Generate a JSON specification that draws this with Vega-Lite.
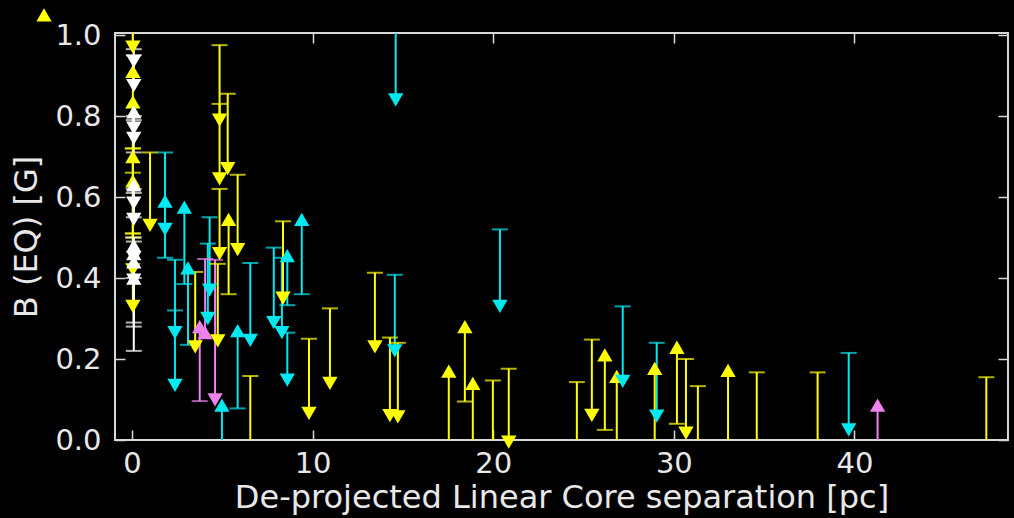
{
  "$schema": "https://vega.github.io/schema/vega-lite/v6.json",
  "width": 893,
  "height": 407,
  "autosize": {"type": "none"},
  "padding": {"left": 115, "top": 33, "right": 6, "bottom": 78},
  "background": "black",
  "config": {
    "view": {"stroke": "#d8d8d8", "strokeWidth": 2},
    "axis": {
      "domain": false,
      "grid": false,
      "tickSize": -10,
      "tickColor": "#d8d8d8",
      "tickWidth": 1.5,
      "labelFont": "DejaVu Sans",
      "labelFontSize": 29,
      "labelColor": "#e8e8e8",
      "titleFont": "DejaVu Sans",
      "titleFontSize": 32,
      "titleFontWeight": "normal",
      "titleColor": "#e8e8e8"
    }
  },
  "data": {
    "values": [
      {"x": 0.05, "y": 0.91, "cap": 0.72, "s": "up", "g": "Y"},
      {"x": 0.05, "y": 0.835, "cap": 0.66, "s": "up", "g": "Y"},
      {"x": 0.05, "y": 0.70, "cap": 0.51, "s": "up", "g": "Y"},
      {"x": 0.05, "y": 0.64, "cap": 0.50, "s": "up", "g": "Y"},
      {"x": 0.05, "y": 0.42, "cap": 0.72, "s": "down", "g": "Y"},
      {"x": 0.05, "y": 0.33, "cap": 0.51, "s": "down", "g": "Y"},
      {"x": 0.05, "y": 0.97, "cap": 1.03, "s": "down", "g": "Y"},
      {"x": 0.1, "y": 0.935, "cap": 0.965, "s": "down", "g": "W"},
      {"x": 0.1, "y": 0.875, "cap": 0.95, "s": "down", "g": "W"},
      {"x": 0.1, "y": 0.81, "cap": 0.71, "s": "up", "g": "W"},
      {"x": 0.1, "y": 0.77, "cap": 0.80, "s": "down", "g": "W"},
      {"x": 0.1, "y": 0.745, "cap": 0.79, "s": "down", "g": "W"},
      {"x": 0.1, "y": 0.63, "cap": 0.55, "s": "up", "g": "W"},
      {"x": 0.1, "y": 0.585, "cap": 0.62, "s": "down", "g": "W"},
      {"x": 0.1, "y": 0.545, "cap": 0.61, "s": "down", "g": "W"},
      {"x": 0.1, "y": 0.48, "cap": 0.40, "s": "up", "g": "W"},
      {"x": 0.1, "y": 0.45, "cap": 0.50, "s": "down", "g": "W"},
      {"x": 0.1, "y": 0.395, "cap": 0.49, "s": "down", "g": "W"},
      {"x": 0.1, "y": 0.46, "cap": 0.29, "s": "up", "g": "W"},
      {"x": 0.1, "y": 0.44, "cap": 0.28, "s": "up", "g": "W"},
      {"x": 0.1, "y": 0.40, "cap": 0.22, "s": "up", "g": "W"},
      {"x": 1.0, "y": 0.53, "cap": 0.71, "s": "down", "g": "Y"},
      {"x": 1.83, "y": 0.52, "cap": 0.71, "s": "down", "g": "C"},
      {"x": 1.83, "y": 0.59, "cap": 0.45, "s": "up", "g": "C"},
      {"x": 2.38, "y": 0.265, "cap": 0.445, "s": "down", "g": "C"},
      {"x": 2.38, "y": 0.135, "cap": 0.32, "s": "down", "g": "C"},
      {"x": 2.9, "y": 0.575, "cap": 0.385, "s": "up", "g": "C"},
      {"x": 3.1, "y": 0.425, "cap": 0.235, "s": "up", "g": "C"},
      {"x": 3.5, "y": 0.23, "cap": 0.415, "s": "down", "g": "Y"},
      {"x": 3.75, "y": 0.28, "cap": 0.096, "s": "up", "g": "M"},
      {"x": 4.05, "y": 0.265, "cap": 0.447, "s": "up", "g": "M"},
      {"x": 4.6, "y": 0.099, "cap": 0.445, "s": "down", "g": "M"},
      {"x": 4.3, "y": 0.37, "cap": 0.55, "s": "down", "g": "C"},
      {"x": 4.2, "y": 0.30, "cap": 0.485, "s": "down", "g": "C"},
      {"x": 4.98, "y": 0.086, "cap": -0.05, "s": "up", "g": "C"},
      {"x": 4.85, "y": 0.79, "cap": 0.975, "s": "down", "g": "Y"},
      {"x": 5.3, "y": 0.67, "cap": 0.855, "s": "down", "g": "Y"},
      {"x": 4.85, "y": 0.645, "cap": 0.83, "s": "down", "g": "Y"},
      {"x": 5.85, "y": 0.47, "cap": 0.655, "s": "down", "g": "Y"},
      {"x": 4.85, "y": 0.46, "cap": 0.62, "s": "down", "g": "Y"},
      {"x": 5.35, "y": 0.545, "cap": 0.36, "s": "up", "g": "Y"},
      {"x": 4.75, "y": 0.245, "cap": 0.435, "s": "down", "g": "Y"},
      {"x": 5.85, "y": 0.27, "cap": 0.078, "s": "up", "g": "C"},
      {"x": 6.55, "y": 0.246, "cap": 0.437, "s": "down", "g": "C"},
      {"x": 6.55, "y": 0.0, "cap": 0.158, "s": "none", "g": "Y"},
      {"x": 7.85, "y": 0.29, "cap": 0.475, "s": "down", "g": "C"},
      {"x": 8.3, "y": 0.265, "cap": 0.45, "s": "down", "g": "C"},
      {"x": 8.6, "y": 0.455, "cap": 0.333, "s": "up", "g": "C"},
      {"x": 8.6, "y": 0.148, "cap": 0.265, "s": "down", "g": "C"},
      {"x": 9.4, "y": 0.545, "cap": 0.36, "s": "up", "g": "C"},
      {"x": 8.36, "y": 0.35, "cap": 0.54, "s": "down", "g": "Y"},
      {"x": 9.8, "y": 0.066, "cap": 0.25, "s": "down", "g": "Y"},
      {"x": 10.96, "y": 0.14, "cap": 0.325, "s": "down", "g": "Y"},
      {"x": 13.45, "y": 0.23, "cap": 0.413, "s": "down", "g": "Y"},
      {"x": 14.55, "y": 0.22, "cap": 0.408, "s": "down", "g": "C"},
      {"x": 14.28, "y": 0.06, "cap": 0.253, "s": "down", "g": "Y"},
      {"x": 14.72, "y": 0.057, "cap": 0.24, "s": "down", "g": "Y"},
      {"x": 14.6, "y": 0.84, "cap": 1.03, "s": "down", "g": "C"},
      {"x": 17.54, "y": 0.17, "cap": -0.05, "s": "up", "g": "Y"},
      {"x": 18.43, "y": 0.28, "cap": 0.095, "s": "up", "g": "Y"},
      {"x": 18.87, "y": 0.14, "cap": -0.05, "s": "up", "g": "Y"},
      {"x": 19.98, "y": 0.0, "cap": 0.147, "s": "none", "g": "Y"},
      {"x": 20.86, "y": -0.005, "cap": 0.176, "s": "down", "g": "Y"},
      {"x": 20.37, "y": 0.33, "cap": 0.52, "s": "down", "g": "C"},
      {"x": 24.63, "y": 0.0, "cap": 0.143, "s": "none", "g": "Y"},
      {"x": 25.46, "y": 0.061, "cap": 0.248, "s": "down", "g": "Y"},
      {"x": 26.18, "y": 0.21, "cap": 0.025, "s": "up", "g": "Y"},
      {"x": 26.84, "y": 0.157, "cap": -0.05, "s": "up", "g": "Y"},
      {"x": 27.17, "y": 0.145, "cap": 0.33, "s": "down", "g": "C"},
      {"x": 29.05, "y": 0.059, "cap": 0.24, "s": "down", "g": "C"},
      {"x": 28.94, "y": 0.177, "cap": -0.05, "s": "up", "g": "Y"},
      {"x": 30.17, "y": 0.229, "cap": 0.04, "s": "up", "g": "Y"},
      {"x": 30.67, "y": 0.017, "cap": 0.2, "s": "down", "g": "Y"},
      {"x": 31.33, "y": 0.0, "cap": 0.133, "s": "none", "g": "Y"},
      {"x": 33.0, "y": 0.172, "cap": -0.05, "s": "up", "g": "Y"},
      {"x": 34.59, "y": 0.0, "cap": 0.167, "s": "none", "g": "Y"},
      {"x": 37.96, "y": 0.0, "cap": 0.167, "s": "none", "g": "Y"},
      {"x": 39.68, "y": 0.025, "cap": 0.215, "s": "down", "g": "C"},
      {"x": 41.28, "y": 0.086, "cap": -0.05, "s": "up", "g": "M"},
      {"x": 47.3, "y": 0.0, "cap": 0.155, "s": "none", "g": "Y"},
      {"x": -4.87, "y": 1.05, "cap": 1.05, "s": "up", "g": "Y"}
    ]
  },
  "encoding": {
    "x": {"field": "x", "type": "quantitative", "scale": {"domain": [-0.94, 48.5], "nice": false, "zero": false}},
    "color": {"field": "g", "type": "nominal", "legend": null,
      "scale": {"domain": ["Y", "C", "M", "W"], "range": ["#ffff00", "#00e8f0", "#ee82ee", "#ffffff"]}}
  },
  "layer": [
    {
      "mark": {"type": "rule", "clip": true, "strokeWidth": 2},
      "encoding": {
        "x": {"field": "x", "type": "quantitative", "axis": {"orient": "bottom", "values": [0, 10, 20, 30, 40], "title": "De-projected Linear Core separation [pc]", "labelPadding": 19, "titlePadding": 4}},
        "y": {"field": "y", "type": "quantitative", "scale": {"domain": [0, 1.005], "nice": false, "zero": false}, "axis": {"orient": "left", "values": [0, 0.2, 0.4, 0.6, 0.8, 1.0], "format": ".1f", "title": "B (EQ) [G]", "labelPadding": 24, "titlePadding": 11}},
        "y2": {"field": "cap"}
      }
    },
    {
      "mark": {"type": "tick", "clip": true, "orient": "horizontal", "size": 16, "thickness": 2},
      "encoding": {
        "x": {"field": "x", "type": "quantitative", "axis": {"orient": "top", "values": [0, 10, 20, 30, 40], "labels": false, "title": null}},
        "y": {"field": "cap", "type": "quantitative", "axis": {"orient": "right", "values": [0, 0.2, 0.4, 0.6, 0.8, 1.0], "labels": false, "title": null}}
      }
    },
    {
      "transform": [{"filter": "datum.s != 'none'"}],
      "mark": {"type": "point", "filled": true, "size": 235, "opacity": 1},
      "encoding": {
        "x": {"field": "x", "type": "quantitative", "axis": null},
        "y": {"field": "y", "type": "quantitative", "axis": null},
        "shape": {"field": "s", "type": "nominal", "legend": null, "scale": {"domain": ["up", "down"], "range": ["triangle-up", "triangle-down"]}}
      }
    }
  ],
  "resolve": {"axis": {"x": "independent", "y": "independent"}}
}
